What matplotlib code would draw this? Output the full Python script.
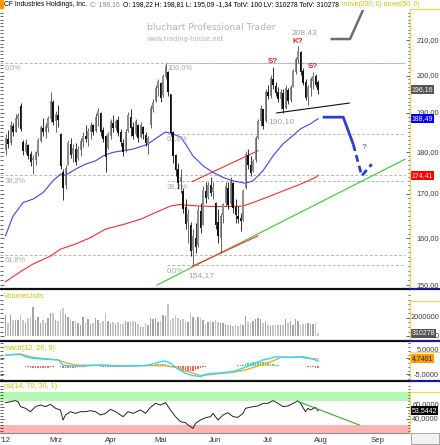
import numpy as np
import pandas as pd
import matplotlib
matplotlib.use("Agg")
import matplotlib.pyplot as plt
from matplotlib.ticker import FixedLocator, NullFormatter
from matplotlib.patches import Rectangle
from matplotlib.lines import Line2D

plt.rcParams["font.family"] = ["Liberation Sans", "DejaVu Sans"]

# trading days Feb - Sep 2012 (US holidays dropped)
holidays = ["2012-02-20", "2012-04-06", "2012-05-28", "2012-07-04", "2012-09-03"]
days = pd.bdate_range("2012-02-01", "2012-09-28").drop(pd.to_datetime(holidays))
month_names = {2: "'12", 3: "Mrz", 4: "Apr", 5: "Mai", 6: "Jun", 7: "Jul", 8: "Aug", 9: "Sep"}

stock = "CF Industries Holdings, Inc."

opens = [180.6, 183.2, 182.3, 186.6, 185.2, 188.5, 191.8, 182.5, 180.2, 181.8,
         179.5, 178.0, 178.2, 179.8, 182.9, 186.0, 185.2, 186.2, 188.3, 192.8,
         187.8, 189.4, 184.5, 175.2, 172.0, 177.0, 182.0, 179.5, 180.8, 178.6,
         180.5, 182.5, 184.0, 183.4, 185.0, 186.8, 185.3, 189.2, 190.0, 185.6,
         184.0, 181.0, 184.2, 187.5, 186.2, 188.2, 185.0, 182.4, 180.5, 185.3,
         189.0, 186.3, 184.5, 187.0, 183.8, 186.4, 184.3, 182.0, 186.8, 191.0,
         193.2, 196.5, 198.0, 194.8, 199.6, 201.0, 195.0, 185.0, 179.3, 176.0,
         172.8, 170.8, 167.0, 163.5, 163.0, 157.5, 160.0, 158.4, 166.0, 163.0,
         170.6, 169.2, 172.2, 170.5, 168.0, 163.5, 160.0, 165.2, 167.8, 171.5,
         167.6, 172.5, 167.0, 165.0, 164.5, 164.0, 171.5, 179.4, 176.8, 175.4,
         178.0, 183.6, 187.8, 191.0, 188.0, 195.5, 194.5, 199.2, 197.2, 195.6,
         193.8, 195.2, 191.4, 196.2, 193.4, 197.0, 201.0, 204.4, 206.6, 201.2,
         198.2, 194.3, 196.6, 198.6, 199.8, 198.22]
highs = [184.6, 185.5, 187.8, 187.4, 189.6, 190.0, 192.5, 183.0, 183.2, 182.0,
         180.3, 179.4, 180.4, 183.6, 187.0, 188.6, 187.3, 189.3, 195.5, 193.4,
         190.5, 192.2, 184.9, 176.0, 176.9, 183.0, 183.6, 182.0, 182.4, 181.6,
         183.5, 185.2, 186.9, 186.0, 187.7, 187.2, 189.9, 191.2, 190.2, 186.4,
         184.3, 185.1, 188.5, 189.4, 188.5, 189.3, 185.9, 183.4, 185.9, 190.3,
         191.1, 187.6, 188.5, 187.2, 187.6, 186.7, 185.1, 184.2, 192.0, 193.8,
         197.3, 199.1, 198.2, 200.5, 203.5, 201.2, 195.1, 185.3, 179.6, 177.5,
         175.9, 171.3, 168.8, 166.5, 163.6, 162.0, 163.4, 167.2, 168.0, 171.9,
         172.7, 172.9, 174.0, 172.7, 168.2, 166.5, 165.7, 168.0, 172.7, 172.7,
         174.1, 172.7, 168.8, 167.2, 165.7, 171.1, 180.4, 180.8, 179.1, 178.3,
         184.2, 188.5, 192.0, 191.1, 196.4, 197.3, 200.1, 202.5, 198.2, 196.9,
         196.4, 196.4, 197.3, 196.5, 197.3, 201.9, 205.3, 208.43, 207.0, 202.2,
         199.1, 197.3, 199.6, 201.0, 200.4, 198.81]
lows = [179.4, 181.0, 181.8, 184.0, 185.0, 186.4, 185.4, 179.4, 179.6, 178.3,
        176.7, 174.7, 176.8, 179.1, 182.5, 184.2, 183.6, 185.1, 187.6, 186.9,
        185.1, 186.4, 175.9, 168.5, 171.1, 176.8, 178.5, 177.6, 176.8, 178.2,
        179.2, 181.2, 182.6, 181.6, 183.4, 184.3, 185.0, 186.5, 184.2, 182.5,
        175.2, 180.8, 183.4, 185.1, 185.5, 184.2, 181.6, 179.1, 180.2, 185.0,
        184.2, 183.4, 184.2, 182.5, 183.6, 183.4, 181.6, 179.5, 186.2, 190.3,
        192.9, 194.6, 192.9, 194.3, 199.0, 194.6, 184.2, 177.5, 174.3, 171.1,
        170.3, 165.7, 162.0, 159.0, 156.1, 154.17, 156.8, 158.0, 161.2, 162.8,
        168.0, 168.8, 169.5, 168.8, 162.0, 159.0, 156.8, 163.4, 167.2, 166.5,
        167.2, 165.7, 163.4, 163.4, 161.6, 163.8, 171.2, 175.9, 174.3, 175.1,
        177.6, 183.2, 186.7, 185.9, 187.6, 193.8, 194.0, 196.4, 194.6, 192.9,
        191.1, 190.1, 191.0, 192.4, 193.0, 196.8, 200.4, 203.6, 200.1, 197.3,
        193.4, 192.0, 194.6, 196.4, 196.8, 195.09]
closes = [183.6, 182.0, 186.9, 185.0, 188.8, 189.5, 185.9, 180.3, 182.4, 179.0,
          177.6, 178.6, 180.0, 183.0, 186.3, 185.0, 186.5, 188.8, 193.2, 187.6,
          189.6, 188.2, 176.6, 171.5, 176.2, 182.4, 179.4, 181.0, 177.6, 180.8,
          182.8, 184.0, 183.2, 185.4, 187.0, 185.0, 189.0, 190.4, 185.0, 183.2,
          178.8, 184.6, 187.8, 186.0, 188.0, 184.8, 182.5, 180.2, 185.0, 189.5,
          186.0, 184.0, 187.8, 183.5, 186.8, 184.6, 182.4, 183.6, 191.2, 193.0,
          196.5, 198.4, 194.0, 199.8, 202.6, 195.5, 184.8, 179.0, 175.6, 172.6,
          174.0, 166.5, 163.2, 165.4, 157.2, 160.5, 158.0, 166.2, 162.2, 171.0,
          169.0, 172.0, 170.2, 171.6, 163.0, 160.5, 165.0, 167.6, 171.8, 167.4,
          173.4, 166.8, 165.2, 164.2, 163.8, 170.6, 179.6, 177.0, 175.0, 177.8,
          183.5, 187.8, 191.2, 186.6, 195.6, 194.4, 199.4, 197.4, 195.4, 193.6,
          195.6, 191.0, 196.6, 193.2, 196.8, 201.2, 204.6, 206.8, 201.0, 198.0,
          194.0, 196.8, 199.0, 200.0, 197.5, 196.16]

# volume in millions of shares
volume_m = [2.31, 1.44, 2.31, 1.79, 1.79, 1.75, 2.31, 1.79, 1.44, 1.96,
            2.14, 3.19, 1.79, 2.14, 1.44, 1.79, 1.44, 1.96, 2.49, 2.59,
            1.79, 1.61, 2.91, 3.12, 2.38, 2.14, 1.86, 1.61, 1.61, 1.44,
            1.26, 2.14, 1.44, 1.86, 1.33, 1.44, 1.96, 1.79, 1.44, 1.61,
            2.49, 1.61, 1.44, 1.54, 1.37, 1.54, 1.37, 1.33, 1.61, 1.51,
            1.68, 1.61, 1.54, 1.33, 0.98, 1.02, 1.44, 1.26, 1.96, 1.89,
            1.96, 1.54, 1.61, 2.31, 2.21, 3.54, 1.79, 1.96, 2.31, 1.96,
            1.79, 1.86, 1.61, 1.54, 2.49, 2.14, 1.79, 2.14, 1.96, 1.79,
            1.33, 1.54, 1.61, 1.54, 1.79, 1.54, 1.44, 1.44, 1.33, 1.26,
            1.19, 1.09, 1.23, 1.09, 1.30, 1.26, 2.24, 1.54, 1.44, 1.68,
            1.89, 2.03, 1.86, 1.44, 1.61, 1.26, 1.09, 1.26, 1.19, 1.19,
            1.19, 1.26, 1.89, 1.44, 1.61, 1.26, 1.89, 1.61, 1.26, 1.33,
            1.33, 1.44, 1.33, 1.33, 1.44, 0.310278]

# moving averages (read at sample points)
ma50_idx = [0, 3, 7, 11, 15, 19, 22, 24, 28, 32, 36, 39, 43, 47, 51, 55, 57, 60,
            64, 67, 70, 72, 75, 79, 83, 87, 91, 96, 99, 103, 107, 111, 115, 118, 122, 125]
ma50_val = [160.5, 164.9, 168.0, 168.8, 170.3, 173.1, 174.7, 174.4, 175.9, 177.1, 177.9,
            179.1, 180.0, 180.4, 180.8, 181.6, 182.1, 183.4, 185.1, 184.6, 183.8, 182.1,
            179.1, 176.7, 175.1, 173.9, 173.1, 172.5, 173.1, 175.5, 179.1, 182.1, 184.2,
            185.9, 187.2, 188.49]
ma200_idx = [0, 6, 11, 18, 22, 28, 34, 40, 47, 54, 60, 66, 70, 72, 78, 84, 91, 95,
             99, 104, 111, 118, 124, 125]
ma200_val = [150.7, 152.8, 154.4, 156.1, 157.6, 158.7, 160.1, 162.0, 163.0, 164.2, 165.7,
             167.2, 167.6, 167.4, 167.2, 167.1, 167.1, 167.2, 168.0, 169.1, 170.7, 172.3,
             173.9, 174.41]

# fibonacci retracements
fib_a_levels = [203.5, 174.4, 156.4]
fib_a_labels = ["0,0%", "38,2%", "61,8%"]
fib_b_levels = [203.5, 184.65, 173.0, 154.17]
fib_b_labels = ["100,0%", "61,8%", "38,2%", "0,0%"]
fib_b_start = 64.6
fib_end = 159.6

# drawn lines
green_idx, green_val = [60.6, 159.8], [150.0, 178.3]
chan_lo_idx, chan_lo_val = [74.6, 101.0], [153.9, 160.5]
chan_hi_idx, chan_hi_val = [74.6, 101.0], [172.9, 180.4]
neck_idx, neck_val = [108.5, 137.5], [190.0, 192.6]
proj_idx = [126.9, 135.1, 139.1, 142.5, 146.5]
proj_val = [188.9, 188.9, 182.0, 174.3, 177.1]
gray_idx, gray_val = [130.5, 137.8, 143.4], [210.3, 210.3, 219.5]

# MACD
macd_idx = [0, 6, 8, 11, 16, 21, 23, 26, 31, 38, 44, 51, 56, 59, 62, 64, 66, 68, 72, 75,
            78, 80, 84, 91, 96, 99, 103, 106, 108, 114, 119, 123, 125]
macd_val = [7.2, 7.6, 6.1, 5.1, 4.5, 4.1, 0.9, 0.3, 0.3, 0.9, 0.3, 0.3, 0.6, 1.6, 3.0, 3.4,
            2.0, -0.5, -4.3, -5.7, -6.4, -4.9, -4.3, -3.2, -0.5, 1.6, 4.1, 5.1, 6.1, 5.7,
            6.1, 4.6, 3.4]
signal_idx = [0, 6, 11, 21, 24, 28, 38, 56, 64, 70, 75, 78, 83, 91, 96, 102, 107, 110,
              115, 118, 120, 125]
signal_val = [7.2, 7.8, 5.7, 4.1, 2.4, 0.9, 0.7, 0.5, 0.5, -1.1, -4.3, -5.7, -4.9, -3.6,
              -2.2, 0.9, 3.4, 5.7, 5.7, 6.1, 5.1, 4.7401]
hist = [0.3, 0.4, 0.4, 0.5, 0.4, 0.3, 0.3, 0.2,
        -0.4, -0.6, -0.8, -0.9, -1.0, -0.9, -0.8, -0.8, -0.7, -0.7, -0.6, -0.5,
        0.2, 0.2, -0.2,
        -0.9, -1.1, -1.0, -0.9, -0.8, -0.7, -0.6, -0.5, -0.4, -0.3,
        0.2, 0.3, 0.3, 0.2,
        0.1, -0.1, -0.2,
        -0.4, -0.5, -0.5, -0.4, -0.3, -0.3, -0.4, -0.3,
        -0.1, 0.1, 0.1, -0.1, 0.0, 0.1, 0.0, 0.1,
        0.3, 0.5, 0.8, 1.1, 1.4, 1.5, 1.6, 1.5, 1.3, 1.0, 0.4,
        -0.6, -1.2, -1.8, -2.3, -2.8, -3.2, -3.3, -3.0, -2.6, -2.1, -1.6, -1.0, -0.6, -0.2,
        0.3, 0.4, 0.5, 0.4, 0.3, 0.4, 0.5, 0.6, 0.6, 0.5, 0.5, 0.6, 0.7, 0.8, 1.0, 1.5,
        2.0, 2.4, 2.7, 2.9, 3.0, 2.9, 2.7, 2.5, 2.2, 1.8, 1.4, 1.0, 0.8, 0.6, 0.5, 0.5,
        0.4, 0.4, 0.3, 0.4, 0.4, 0.3, 0.2, 0.1,
        -0.3, -0.5, -0.6, -0.7, -0.8]

# RSI
rsi_idx = [0, 2, 4, 5, 6, 8, 10, 12, 14, 16, 18, 20, 22, 23, 24, 26, 28, 30, 32, 34, 36,
           38, 40, 42, 44, 47, 49, 51, 54, 56, 58, 60, 62, 64, 66, 68, 70, 72, 73, 75, 76,
           78, 80, 82, 83, 85, 87, 89, 91, 93, 95, 96, 99, 101, 103, 105, 107, 109, 111,
           113, 115, 117, 118, 120, 121, 122, 124, 125]
rsi_val = [67.2, 68.9, 70.6, 68.9, 60.6, 57.8, 52.2, 60.6, 63.3, 60.6, 64.4, 57.8, 55.0,
           38.3, 46.7, 52.2, 49.4, 52.2, 52.2, 53.9, 52.2, 46.7, 49.4, 56.1, 52.2, 43.9,
           52.2, 49.4, 55.0, 49.4, 59.4, 66.1, 63.3, 67.2, 55.0, 43.9, 35.6, 33.9, 30.0,
           24.4, 32.8, 38.3, 42.2, 43.9, 49.4, 38.3, 46.7, 50.5, 43.9, 42.8, 49.4, 57.8,
           60.6, 61.7, 66.1, 66.1, 70.6, 66.1, 60.6, 61.7, 66.1, 70.0, 66.1, 52.2, 57.8,
           55.0, 59.4, 53.5442]
rsi_line_idx, rsi_line_val = [116.5, 141.5], [70, 30]


def de(v, d=2):
    return f"{v:.{d}f}".replace(".", ",")


W, H = 440, 445
fig = plt.figure(figsize=(W / 100, H / 100), dpi=100)
fig.patch.set_facecolor("white")
XMIN, XMAX = -2.2, 161.8
AXR = 410 / W


def panel(top, bottom):
    a = fig.add_axes([0, 1 - bottom / H, AXR, (bottom - top) / H])
    a.set_xlim(XMIN, XMAX)
    for s in ("top", "left", "right"):
        a.spines[s].set_visible(False)
    a.spines["bottom"].set_color("#111111")
    a.spines["bottom"].set_linewidth(1.6)
    a.tick_params(axis="y", which="both", direction="in", left=True, right=True,
                  labelleft=False, labelright=False, color="#222222", width=0.5)
    a.tick_params(axis="y", which="major", length=3)
    a.tick_params(axis="y", which="minor", length=1.8)
    a.set_xticks([])
    return a


def right_labels(a, vals, texts, dy=0):
    for v, t in zip(vals, texts):
        a.annotate(t, (439 / 410, v), xycoords=a.get_yaxis_transform(),
                   xytext=(0, dy), textcoords="offset pixels", ha="right",
                   va="center", fontsize=5.3, color="#3c3c3c", annotation_clip=False, zorder=1)


def tag(a, v, t, fc, tc="white"):
    a.text(411.5 / 410, v, t, transform=a.get_yaxis_transform(), ha="left", va="center",
           fontsize=5.0, color=tc, clip_on=False, zorder=5,
           bbox=dict(boxstyle="square,pad=0.15", fc=fc, ec="none"))


pos = np.arange(len(closes))
o, hi, lo, c = map(np.array, (opens, highs, lows, closes))
up = c >= o

# ---------------- price panel ----------------
ax = panel(9.5, 289)
ax.set_yscale("log")
ax.set_ylim(149.2, 219.0)
ax.yaxis.set_major_locator(FixedLocator(np.arange(150, 211, 10)))
ax.yaxis.set_minor_locator(FixedLocator(np.arange(149, 219, 1.0)))
ax.yaxis.set_major_formatter(NullFormatter())
ax.yaxis.set_minor_formatter(NullFormatter())
right_labels(ax, np.arange(150, 211, 10), [de(v) for v in np.arange(150, 211, 10)])

ax.hlines(fib_a_levels, XMIN, fib_end, colors="#b8b8b8", linestyles=(0, (3, 2)), lw=0.7)
ax.hlines(fib_b_levels, fib_b_start, fib_end, colors="#b8b8b8", linestyles=(0, (3, 2)), lw=0.7)
for lv, lb in zip(fib_a_levels, fib_a_labels):
    ax.annotate(lb, (XMIN, lv), xytext=(5, -1.5), textcoords="offset pixels",
                ha="left", va="top", fontsize=5.3, color="#a8a8a8")
for lv, lb in zip(fib_b_levels, fib_b_labels):
    ax.annotate(lb, (fib_b_start, lv), xytext=(0, -1.5), textcoords="offset pixels",
                ha="left", va="top", fontsize=5.3, color="#a8a8a8")

ax.plot(ma200_idx, ma200_val, color="#ff2a2a", lw=0.8)
ax.plot(ma50_idx, ma50_val, color="#4040ff", lw=0.8)
ax.plot(green_idx, green_val, color="#33cc33", lw=0.8)
ax.plot(chan_lo_idx, chan_lo_val, color="#ff2a2a", lw=0.8)
ax.plot(chan_hi_idx, chan_hi_val, color="#ff2a2a", lw=0.8)
ax.plot(neck_idx, neck_val, color="#111111", lw=0.8)
ax.plot(proj_idx[:3], proj_val[:3], color="#2b3fd0", lw=2.0, solid_capstyle="butt")
ax.plot(proj_idx[2:], proj_val[2:], color="#2b3fd0", lw=2.0, linestyle=(0, (2.5, 1.5)))
ax.plot(gray_idx, gray_val, color="#6e6e6e", lw=1.8)
ax.text(proj_idx[3] + 0.8, 181.2, "?", color="#4c4cd0", fontsize=6, ha="center", va="center")

ax.vlines(pos, lo, hi, colors=np.where(up, "#4a4a4a", "#101010"), lw=0.6, zorder=3)
ax.bar(pos, np.maximum(np.abs(c - o), 0.2), bottom=np.minimum(o, c), width=0.75,
       color=np.where(up, "#8e8e8e", "#101010"), linewidth=0, zorder=4)

ih = int(np.argmax(hi))
il = int(np.argmin(lo))
ax.annotate(de(hi[ih]), (ih, hi[ih]), xytext=(6, 9), textcoords="offset pixels",
            ha="center", va="bottom", fontsize=6, color="#a0a0a0")
ax.annotate("K?", (ih, hi[ih]), xytext=(0, 0.5), textcoords="offset pixels",
            ha="center", va="bottom", fontsize=5.8, color="#ee2222", fontweight="bold")
for k in (107, 123):
    ax.annotate("S?", (k, hi[k]), xytext=(0, 2), textcoords="offset pixels",
                ha="center", va="bottom", fontsize=5.8, color="#ee2222", fontweight="bold")
ax.annotate(de(lo[111]), (111, lo[111]), xytext=(-1.5, -5), textcoords="offset pixels",
            ha="center", va="top", fontsize=6, color="#a0a0a0")
ax.annotate(de(lo[il]), (il, lo[il]), xytext=(8.5, -7), textcoords="offset pixels",
            ha="center", va="top", fontsize=6, color="#a0a0a0")

tag(ax, closes[-1], de(closes[-1]), "#555555")
tag(ax, ma50_val[-1], de(ma50_val[-1]), "#0000ff")
tag(ax, ma200_val[-1], de(ma200_val[-1]), "#ff0000")

# ---------------- volume ----------------
axv = panel(291, 341)
axv.set_ylim(-0.525, 4.94)
axv.bar(pos, volume_m, width=0.55, color=np.where(up, "#a4a4a4", "#c6c6c6"), linewidth=0)
axv.yaxis.set_major_locator(FixedLocator([0, 2]))
axv.yaxis.set_minor_locator(FixedLocator(np.arange(0, 4.6, 0.5)))
right_labels(axv, [0, 2], ["0", "2000000"])
tag(axv, volume_m[-1], f"{volume_m[-1] * 1e6:.0f}", "#555555")

# ---------------- MACD ----------------
axm = panel(343, 381)
axm.set_ylim(-9.1, 14.7)
hh = np.array(hist)
axm.bar(pos, hh, width=0.55, color=np.where(hh >= 0, "#55dd55", "#ff6060"), linewidth=0)
axm.plot(signal_idx, signal_val, color="#ffa030", lw=1.0)
axm.plot(macd_idx, macd_val, color="#18e0ff", lw=1.0)
axm.yaxis.set_major_locator(FixedLocator([-5, 5]))
axm.yaxis.set_minor_locator(FixedLocator(np.arange(-8, 15, 2.5)))
right_labels(axm, [-5], ["-5,0000"])
right_labels(axm, [5], ["5,0000"], dy=8.5)
tag(axm, signal_val[-1], de(signal_val[-1], 4), "#ff9a00", tc="#222222")

# ---------------- RSI ----------------
axr = panel(383, 432.5)
axr.set_ylim(17.5, 100)
axr.spines["bottom"].set_color("#8c8c8c")
axr.spines["bottom"].set_linewidth(0.8)
axr.axhspan(70, 85.5, color="#b3f9b3", lw=0, zorder=0)
axr.axhspan(17.5, 30, color="#ffb3b3", lw=0, zorder=0)
axr.plot(rsi_idx, rsi_val, color="#222222", lw=0.7, zorder=3)
axr.plot(rsi_line_idx, rsi_line_val, color="#33aa33", lw=0.8, zorder=3)
axr.yaxis.set_major_locator(FixedLocator([40, 60]))
axr.yaxis.set_minor_locator(FixedLocator(np.arange(20, 100, 5)))
right_labels(axr, [40], ["40,0000"])
right_labels(axr, [60], ["60,0000"], dy=2)
tag(axr, rsi_val[-1], de(rsi_val[-1], 4), "#000000")

first = pd.Series(np.arange(len(days)), index=days).groupby(days.month).min()
axr.set_xticks(first.values)
axr.set_xticklabels([month_names[m] for m in first.index])
axr.tick_params(axis="x", length=0, pad=3, labelsize=5.6, labelcolor="#333333")

# ---------------- frame decorations ----------------
for top, bottom in [(9.3, 289), (300.7, 341), (351.7, 381), (391.7, 432.5)]:
    fig.add_artist(Line2D([AXR, AXR], [1 - top / H, 1 - bottom / H], color="#f0d860", lw=0.9))
    fig.add_artist(Line2D([AXR, 1], [1 - top / H, 1 - top / H], color="#f0d860", lw=0.9))
for y in (289, 341, 381):
    fig.add_artist(Line2D([AXR, 1], [1 - y / H, 1 - y / H], color="#1a1a8c", lw=1.6))
fig.add_artist(Rectangle((0, 1 - 8 / H), 3 / W, 8 / H, color="#ff9a00"))
fig.add_artist(Rectangle((411 / W, 0.002), 28 / W, 11 / H, fc="#f2f2f2", ec="#9a9a9a", lw=0.6))

fig.text(4 / W, 1 - 296 / H, "VolumeUnits", fontsize=5.2, color="#c8c800", va="center")
fig.text(4 / W, 1 - 348 / H, "macd(12, 26, 9)", fontsize=5.2, color="#c8c800", va="center")
fig.text(4 / W, 1 - 386.5 / H, "rsi(14, 70, 30, 1)", fontsize=5.2, color="#c8c800", va="center")

fig.text(147 / W, 1 - 28 / H, "bluchart Professional Trader", fontsize=6.6,
         color="#b4b4b4", va="center", family=["DejaVu Sans"])
fig.text(147 / W, 1 - 39.5 / H, "www.trading-house.net", fontsize=4.8,
         color="#b4b4b4", va="center", family=["DejaVu Sans"])

# header line, pieces placed one after another
chg = closes[-1] - closes[-2]
pieces = [(stock, "#000000"),
          (f"C: {de(closes[-1])}", "#8a8a8a"),
          (f"O: {de(opens[-1])} H: {de(highs[-1])} L: {de(lows[-1])} {de(chg)} TotV: 100 "
           f"LV: {volume_m[-1] * 1e6:.0f} TotV: {volume_m[-1] * 1e6:.0f}", "#000000"),
          ("move(200, 0) move(50, 0)", "#c8c800")]
r = fig.canvas.get_renderer()
xp = 4.0
for s, col in pieces:
    t = fig.text(xp / W, 1 - 5 / H, s, fontsize=4.9, color=col, va="center")
    xp = t.get_window_extent(r).x1 + 3

fig.savefig("out.png", dpi=100, facecolor="white")
